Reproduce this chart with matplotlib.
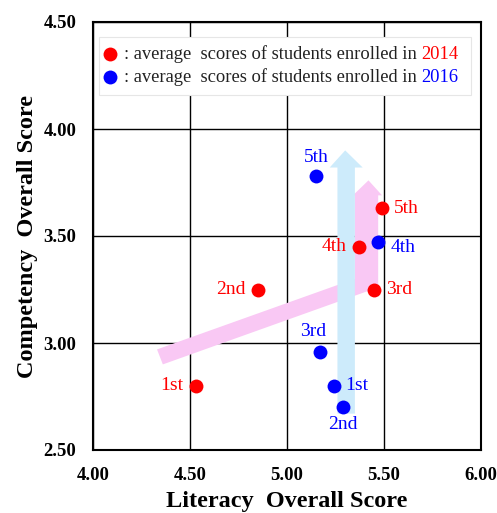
# literacy vs competency scores, 2014 and 2016 cohorts

import matplotlib
matplotlib.use('Agg')
from matplotlib import pyplot as plt
from matplotlib.patches import Polygon, Rectangle

# data
ranks = ['1st', '2nd', '3rd', '4th', '5th']
lit_2014 = [4.53, 4.85, 5.45, 5.37, 5.49]
comp_2014 = [2.80, 3.25, 3.25, 3.45, 3.63]
lit_2016 = [5.24, 5.29, 5.17, 5.47, 5.15]
comp_2016 = [2.80, 2.70, 2.96, 3.47, 3.78]

xticks = [4.00, 4.50, 5.00, 5.50, 6.00]
yticks = [2.50, 3.00, 3.50, 4.00, 4.50]

# trend arrows (data coords)
pink_arrow = [(4.36, 2.90), (5.47, 3.26), (5.47, 3.69), (5.49, 3.69), (5.42, 3.76),
              (5.34, 3.69), (5.35, 3.69), (5.35, 3.30), (4.33, 2.97)]
blue_arrow = [(5.26, 2.67), (5.35, 2.67), (5.35, 3.82), (5.39, 3.82), (5.30, 3.90),
              (5.22, 3.82), (5.26, 3.82)]

# label offsets in pixels: (dx, dy, ha, va)
off_2014 = [(-12, 0, 'right', 'center'), (-12, 0, 'right', 'center'), (12, 0, 'left', 'center'),
            (-12, 0, 'right', 'center'), (12, 0, 'left', 'center')]
off_2016 = [(12, 0, 'left', 'center'), (0, -17, 'center', 'center'), (-7, 20, 'center', 'center'),
            (12, -5, 'left', 'center'), (0, 19, 'center', 'center')]

plt.rcParams['font.family'] = ['Liberation Serif', 'DejaVu Serif']
red = '#ff0000'
blue = '#0000ff'

fig = plt.figure(figsize=(4.97, 5.13), dpi=100)
ax = fig.add_axes([93/497, 1-450/513, 388/497, 428/513])

ax.add_patch(Polygon(pink_arrow, closed=True, facecolor='#f9c8f4', edgecolor='none', zorder=2))
ax.add_patch(Polygon(blue_arrow, closed=True, facecolor='#cdebfb', edgecolor='none', zorder=2.5))

ax.scatter(lit_2014, comp_2014, s=100, color=red, zorder=4, linewidths=0)
ax.scatter(lit_2016, comp_2016, s=100, color=blue, zorder=4, linewidths=0)

for i in range(len(ranks)):
    dx, dy, ha, va = off_2014[i]
    ax.annotate(ranks[i], (lit_2014[i], comp_2014[i]), xytext=(dx, dy), textcoords='offset pixels',
                ha=ha, va=va, color=red, fontsize=14, zorder=5)
    dx, dy, ha, va = off_2016[i]
    ax.annotate(ranks[i], (lit_2016[i], comp_2016[i]), xytext=(dx, dy), textcoords='offset pixels',
                ha=ha, va=va, color=blue, fontsize=14, zorder=5)

# legend drawn by hand so the years can be coloured
ax.add_patch(Rectangle((0.015, 0.83), 0.96, 0.135, transform=ax.transAxes,
                       facecolor='white', edgecolor='#e6e6e6', lw=0.8, zorder=3))
for yy, col, year in [(0.925, red, '2014'), (0.871, blue, '2016')]:
    ax.scatter([0.044], [yy], s=100, color=col, transform=ax.transAxes, zorder=4, linewidths=0)
    t = ax.text(0.08, yy, ': average  scores of students enrolled in ', transform=ax.transAxes,
                ha='left', va='center', fontsize=13.3, color='#222222', zorder=5)
    ax.annotate(year, xy=(1, 0.5), xycoords=t, ha='left', va='center', fontsize=13.3,
                color=col, zorder=5)

ax.set_xlim(4, 6)
ax.set_ylim(2.5, 4.5)
ax.set_xticks(xticks)
ax.set_yticks(yticks)
ax.set_xticklabels(['%.2f' % v for v in xticks], fontweight='bold', fontsize=13.5)
ax.set_yticklabels(['%.2f' % v for v in yticks], fontweight='bold', fontsize=13.5)
ax.tick_params(length=0, pad=12)
ax.grid(True, color='black', lw=1.0, zorder=1)
ax.set_axisbelow(True)
for s in ax.spines.values():
    s.set_linewidth(1.5)

ax.set_xlabel('Literacy  Overall Score', fontweight='bold', fontsize=17.5, labelpad=5)
ax.set_ylabel('Competency  Overall Score', fontweight='bold', fontsize=17.5, labelpad=4)

plt.savefig('out.png', dpi=100)
